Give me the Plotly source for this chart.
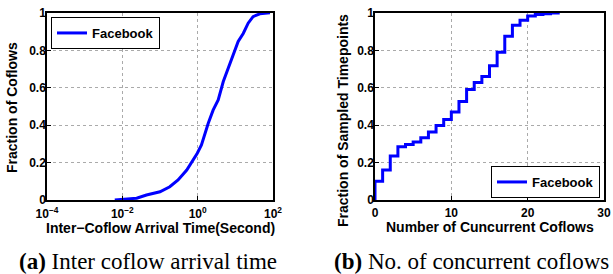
import plotly.graph_objects as go

# (a) Inter-coflow arrival time CDF (seconds, fraction)
arrival_time = [0.0063, 0.0158, 0.024, 0.0437, 0.1, 0.182, 0.302, 0.513, 0.759,
                0.977, 1.26, 1.55, 1.91, 2.57, 3.51, 4.79, 6.46, 8.71, 11.9,
                16.2, 21.9, 29.5, 44.7, 83.2]
arrival_frac = [0.0, 0.005, 0.01, 0.027, 0.044, 0.071, 0.107, 0.16, 0.214,
                0.25, 0.294, 0.357, 0.41, 0.48, 0.535, 0.633, 0.704, 0.775,
                0.847, 0.89, 0.945, 0.98, 0.995, 1.0]

# (b) Number of concurrent coflows CDF (step)
concurrent = [0, 0, 1, 2, 3, 4, 5, 6, 7, 8, 9, 10, 11, 12, 13, 14, 15, 16, 17,
              18, 19, 20, 21, 22, 23, 24]
concurrent_frac = [0.0, 0.10, 0.16, 0.235, 0.285, 0.297, 0.31, 0.333, 0.364,
                   0.398, 0.43, 0.47, 0.527, 0.59, 0.628, 0.66, 0.718, 0.79,
                   0.875, 0.934, 0.96, 0.983, 0.992, 0.996, 0.999, 1.0]

series_name = "Facebook"
log_ticks = [1e-4, 1e-2, 1e0, 1e2]
log_labels = ["10<sup>\u22124</sup>", "10<sup>\u22122</sup>", "10<sup>0</sup>", "10<sup>2</sup>"]
lin_ticks_x = [0, 10, 20, 30]
frac_ticks = [0, 0.2, 0.4, 0.6, 0.8, 1]
frac_labels = ["0", "0.2", "0.4", "0.6", "0.8", "1"]

BLUE = "rgb(0,0,255)"
FAM = "Liberation Sans, Arial, sans-serif"
TICKF = dict(family=FAM, size=12, color="black", weight="bold")
TITLEF = dict(family=FAM, size=14, color="black", weight="bold")
LEGF = dict(family=FAM, size=13, color="black", weight="bold")

fig = go.Figure()
fig.add_trace(go.Scatter(x=arrival_time, y=arrival_frac, mode="lines",
                         line=dict(color=BLUE, width=3), name=series_name,
                         xaxis="x", yaxis="y", legend="legend"))
fig.add_trace(go.Scatter(x=concurrent, y=concurrent_frac, mode="lines",
                         line=dict(color=BLUE, width=3, shape="hv"), name=series_name,
                         xaxis="x2", yaxis="y2", legend="legend2"))

axis_common = dict(showline=True, linecolor="black", linewidth=1.5, mirror=True,
                   ticks="inside", ticklen=4, tickcolor="black", automargin=False,
                   showgrid=True, gridcolor="rgb(170,170,170)", griddash="dot", gridwidth=1,
                   zeroline=False, tickfont=TICKF)

ydom = [0.27, 0.953]
fig.update_layout(
    template="none",
    width=613, height=274, margin=dict(l=0, r=0, t=0, b=0, autoexpand=False),
    paper_bgcolor="white", plot_bgcolor="white",
    xaxis=dict(domain=[47/613, 273/613], type="log", range=[-4, 2],
               tickvals=log_ticks, ticktext=log_labels, anchor="y",
               ticklabelstandoff=2, **axis_common),
    yaxis=dict(domain=ydom, range=[0, 1], tickvals=frac_ticks, ticktext=frac_labels,
               anchor="x", ticklabelstandoff=-3, **axis_common),
    xaxis2=dict(domain=[375/613, 604/613], range=[0, 30], tickvals=lin_ticks_x,
                anchor="y2", ticklabelstandoff=1, **axis_common),
    yaxis2=dict(domain=ydom, range=[0, 1], tickvals=frac_ticks, ticktext=frac_labels,
                anchor="x2", ticklabelstandoff=-3, **axis_common),
    legend=dict(x=51/613, y=(274-17)/274, xanchor="left", yanchor="top",
                bordercolor="black", borderwidth=1, bgcolor="white",
                font=LEGF, itemwidth=30, tracegroupgap=0),
    legend2=dict(x=491/613, y=(274-166)/274, xanchor="left", yanchor="top",
                 bordercolor="black", borderwidth=1, bgcolor="white",
                 font=LEGF, itemwidth=30, tracegroupgap=0),
    showlegend=True,
)

ann = []
ann.append(dict(text="Fraction of Coflows", x=12/613, y=(274-108)/274, textangle=-90,
                xref="paper", yref="paper", showarrow=False, font=TITLEF,
                xanchor="center", yanchor="middle"))
ann.append(dict(text="Inter\u2212Coflow Arrival Time(Second)", x=160/613, y=(274-228)/274,
                xref="paper", yref="paper", showarrow=False, font=TITLEF,
                xanchor="center", yanchor="middle"))
ann.append(dict(text="Fraction of Sampled Timepoints", x=343/613, y=(274-121)/274, textangle=-90,
                xref="paper", yref="paper", showarrow=False, font=TITLEF,
                xanchor="center", yanchor="middle"))
ann.append(dict(text="Number of Cuncurrent Coflows", x=490/613, y=(274-227)/274,
                xref="paper", yref="paper", showarrow=False, font=TITLEF,
                xanchor="center", yanchor="middle"))
CAP = dict(family="Liberation Serif, Times New Roman, serif", size=23, color="black")
ann.append(dict(text="<b>(a)</b> Inter coflow arrival time", x=147.5/613, y=(274-261)/274,
                xref="paper", yref="paper", showarrow=False, font=CAP,
                xanchor="center", yanchor="middle"))
ann.append(dict(text="<b>(b)</b> No. of concurrent coflows", x=471/613, y=(274-261)/274,
                xref="paper", yref="paper", showarrow=False, font=CAP,
                xanchor="center", yanchor="middle"))
fig.update_layout(annotations=ann)

fig.write_html("out.html", config={"displayModeBar": False},
               post_script="document.body.style.margin='0';document.body.style.overflow='hidden';")
